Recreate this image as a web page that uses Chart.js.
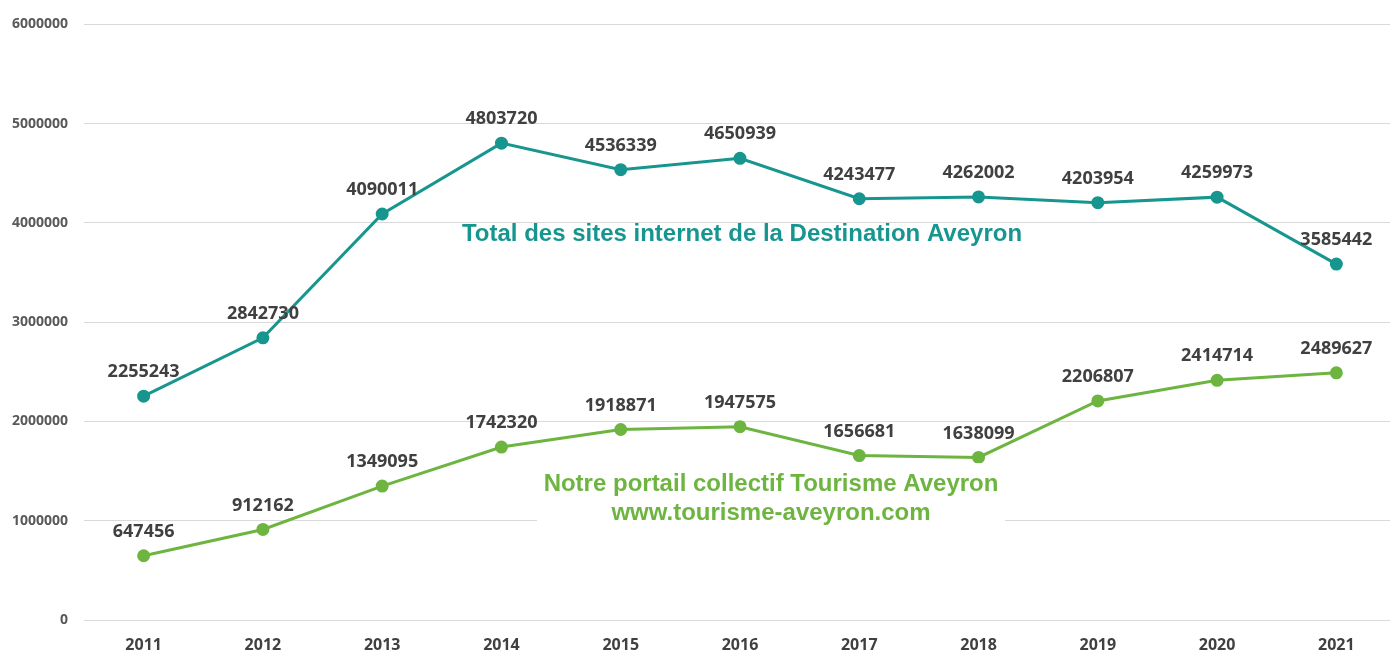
<!DOCTYPE html>
<html>
<head>
<meta charset="utf-8">
<script src="https://cdn.jsdelivr.net/npm/chart.js@4.4.1/dist/chart.umd.min.js"></script>
<style>
  html, body { margin: 0; padding: 0; background: #fff; overflow: hidden; }
  #wrap { width: 1404px; height: 654px; position: relative; }
</style>
</head>
<body>
<div id="wrap"><canvas id="chart"></canvas></div>
<script>
const years = ['2011', '2012', '2013', '2014', '2015', '2016', '2017', '2018', '2019', '2020', '2021'];
const totalSites = [2255243, 2842730, 4090011, 4803720, 4536339, 4650939, 4243477, 4262002, 4203954, 4259973, 3585442];
const portail = [647456, 912162, 1349095, 1742320, 1918871, 1947575, 1656681, 1638099, 2206807, 2414714, 2489627];
const yTicks = [0, 1000000, 2000000, 3000000, 4000000, 5000000, 6000000];

const teal = '#17968f';
const green = '#6db540';

// value labels above each point + the two series captions
const labelsPlugin = {
  id: 'valueLabels',
  afterDatasetsDraw(chart) {
    const ctx = chart.ctx;
    ctx.save();
    ctx.font = 'bold 18px "Open Sans"';
    ctx.fillStyle = '#404040';
    ctx.textBaseline = 'middle';
    ctx.textAlign = 'center';
    chart.data.datasets.forEach((ds, di) => {
      chart.getDatasetMeta(di).data.forEach((pt, i) => {
        ctx.fillText(String(ds.data[i]), pt.x, pt.y - 24);
      });
    });

    const x = chart.scales.x, y = chart.scales.y;
    const step = x.getPixelForValue(6) - x.getPixelForValue(5);
    ctx.font = 'bold 24px "Liberation Sans"';
    ctx.fillStyle = teal;
    ctx.fillText('Total des sites internet de la Destination Aveyron', x.getPixelForValue(5) + 2, y.getPixelForValue(3880000));

    const gx = x.getPixelForValue(5) + 0.26 * step;
    ctx.fillStyle = '#fff';
    ctx.fillRect(537, y.getPixelForValue(1580000), 468, 65);
    ctx.fillStyle = green;
    ctx.fillText('Notre portail collectif Tourisme Aveyron', gx, y.getPixelForValue(1370000));
    ctx.fillText('www.tourisme-aveyron.com', gx, y.getPixelForValue(1070000));
    ctx.restore();
  }
};

new Chart(document.getElementById('chart'), {
  type: 'line',
  data: {
    labels: years,
    datasets: [
      {
        label: 'Total des sites internet de la Destination Aveyron',
        data: totalSites,
        borderColor: teal,
        backgroundColor: teal,
        borderWidth: 3,
        pointRadius: 5,
        tension: 0
      },
      {
        label: 'Notre portail collectif Tourisme Aveyron',
        data: portail,
        borderColor: green,
        backgroundColor: green,
        borderWidth: 3,
        pointRadius: 5,
        tension: 0
      }
    ]
  },
  options: {
    responsive: true,
    maintainAspectRatio: false,
    animation: false,
    layout: { padding: { top: 21, right: 0, left: 0, bottom: 0 } },
    plugins: {
      legend: { display: false },
      tooltip: { enabled: false }
    },
    scales: {
      x: {
        offset: true,
        grid: { display: false },
        border: { display: false },
        ticks: {
          color: '#404040',
          font: { family: 'Open Sans', size: 16, weight: 'bold' },
          padding: 8
        },
        afterFit(s) { s.height = 34; }
      },
      y: {
        min: 0,
        max: 6000000,
        afterBuildTicks(s) { s.ticks = yTicks.map(v => ({ value: v })); },
        grid: { color: '#d9d9d9', lineWidth: 1, drawTicks: false },
        border: { display: false },
        ticks: {
          color: '#595959',
          font: { family: 'Open Sans', size: 14, weight: 'bold' },
          padding: 16,
          callback: v => String(v)
        },
        afterFit(s) { s.width = 84; }
      }
    }
  },
  plugins: [labelsPlugin]
});
</script>
</body>
</html>
